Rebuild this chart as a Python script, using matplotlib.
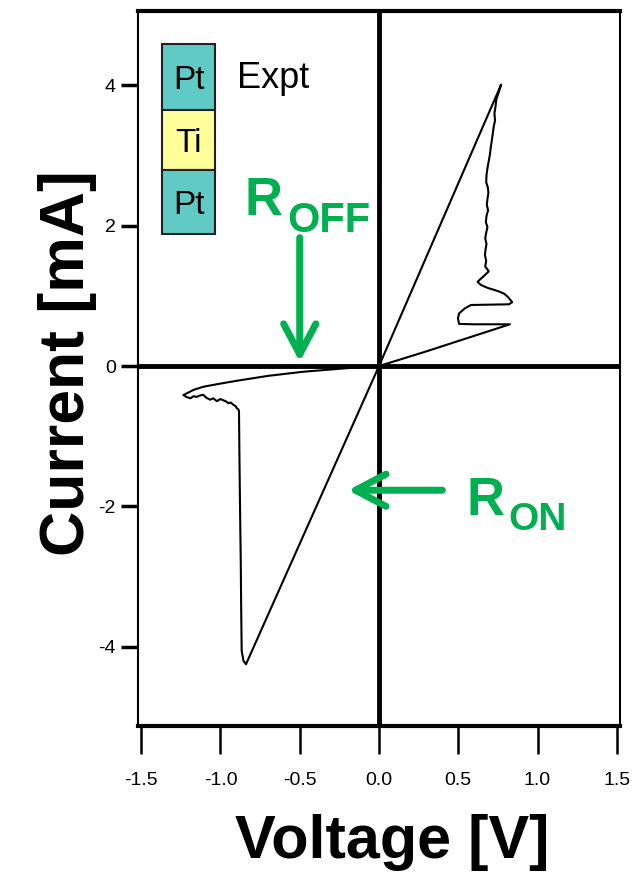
import numpy as np
import matplotlib
matplotlib.use("Agg")
import matplotlib.pyplot as plt
from matplotlib.patches import Rectangle, FancyArrowPatch

# I-V loop of the Pt/Ti/Pt cell (voltage in V, current in mA)
# positive sweep: ON branch up to the peak, then reset back down
v_pos = [0.0, 0.77, 0.755, 0.74, 0.735, 0.728, 0.732, 0.724, 0.718, 0.712,
         0.705, 0.70, 0.692, 0.684, 0.678, 0.676, 0.686, 0.690, 0.684, 0.680,
         0.688, 0.678, 0.674, 0.684, 0.676, 0.670, 0.678, 0.672, 0.668, 0.676,
         0.670, 0.692, 0.665, 0.640, 0.622, 0.640, 0.668, 0.690, 0.720, 0.760,
         0.790, 0.815, 0.840, 0.820, 0.70, 0.580, 0.540, 0.505, 0.498, 0.505,
         0.600, 0.826, 0.60, 0.30, 0.0]
i_pos = [0.0, 4.01, 3.90, 3.80, 3.70, 3.60, 3.50, 3.42, 3.32, 3.22,
         3.12, 3.02, 2.92, 2.82, 2.72, 2.62, 2.55, 2.47, 2.38, 2.30,
         2.22, 2.14, 2.05, 1.98, 1.90, 1.82, 1.74, 1.66, 1.58, 1.50,
         1.42, 1.35, 1.29, 1.24, 1.20, 1.16, 1.13, 1.11, 1.09, 1.06,
         1.03, 0.98, 0.91, 0.88, 0.875, 0.87, 0.82, 0.75, 0.68, 0.60,
         0.595, 0.595, 0.43, 0.21, 0.0]
# negative sweep: OFF branch, set jump, ON branch back to zero
v_neg = [0.0, -0.20, -0.477, -0.70, -0.897, -1.00, -1.108, -1.17, -1.234,
         -1.215, -1.19, -1.17, -1.15, -1.13, -1.108, -1.09, -1.066, -1.045,
         -1.023, -1.00, -0.98, -0.96, -0.95, -0.935, -0.92, -0.905, -0.897,
         -0.886, -0.883, -0.880, -0.876, -0.872, -0.869, -0.866, -0.855,
         -0.839, 0.0]
i_neg = [0.0, -0.03, -0.081, -0.14, -0.21, -0.25, -0.295, -0.34, -0.414,
         -0.44, -0.46, -0.43, -0.44, -0.42, -0.41, -0.45, -0.48, -0.46,
         -0.50, -0.47, -0.49, -0.51, -0.53, -0.52, -0.55, -0.57, -0.60,
         -0.62, -0.65, -1.34, -2.10, -2.77, -3.50, -4.06, -4.20,
         -4.25, 0.0]

x_ticks = [-1.5, -1.0, -0.5, 0.0, 0.5, 1.0, 1.5]
y_ticks = [-4, -2, 0, 2, 4]
stack_layers = ["Pt", "Ti", "Pt"]
stack_colors = ["#5fcbc4", "#ffff99", "#5fcbc4"]

green = "#00b050"
W, H = 641, 876
plt.rcParams["font.family"] = "Liberation Sans"
plt.rcParams["axes.unicode_minus"] = False


def fx(px):
    return px / W


def fy(py):
    return 1 - py / H


fig = plt.figure(figsize=(W / 100, H / 100), dpi=100)
ax = fig.add_axes([fx(138), fy(726), (620 - 138) / W, (726 - 11) / H])

ax.plot(v_pos, i_pos, color="black", lw=1.5, solid_joinstyle="round")
ax.plot(v_neg, i_neg, color="black", lw=1.5, solid_joinstyle="round")
ax.axhline(0, color="black", lw=3.5, zorder=1)
ax.axvline(0, color="black", lw=3.5, zorder=1)

ax.set_xlim(-1.52, 1.52)
ax.set_ylim(-5.13, 5.06)
ax.set_xticks(x_ticks)
ax.set_xticklabels(["%.1f" % t for t in x_ticks])
ax.set_yticks(y_ticks)
ax.set_yticklabels([str(t) for t in y_ticks])
ax.tick_params(axis="x", direction="out", length=20, width=1.8, pad=13,
               labelsize=14)
ax.tick_params(axis="y", direction="out", length=12, width=2.5, pad=4,
               labelsize=14)

ax.spines["top"].set_linewidth(3)
ax.spines["bottom"].set_linewidth(3)
ax.spines["left"].set_linewidth(1.5)
ax.spines["right"].set_linewidth(1.5)

# axis titles
fig.text(fx(392), fy(858), "Voltage [V]", fontsize=44, fontweight="bold",
         ha="center", va="baseline")
fig.text(fx(84), fy(363), "Current [mA]", fontsize=45, fontweight="bold",
         rotation=90, rotation_mode="anchor", ha="center", va="baseline")

# Pt / Ti / Pt stack
edges = [44, 110, 170, 234]
for k, (name, col) in enumerate(zip(stack_layers, stack_colors)):
    top, bot = edges[k], edges[k + 1]
    fig.patches.append(Rectangle((fx(162), fy(bot)), (215 - 162) / W,
                                 (bot - top) / H, transform=fig.transFigure,
                                 facecolor=col, edgecolor="#222222", lw=1.5))
    fig.text(fx(189), fy(bot - (bot - top) / 2 + 12), name, fontsize=24,
             ha="center", va="baseline")
fig.text(fx(237), fy(88), "Expt", fontsize=26, ha="left", va="baseline")

# resistance state annotations
fig.text(fx(245), fy(215), "R", fontsize=38, fontweight="bold",
         color=green, ha="left", va="baseline")
fig.text(fx(287), fy(232), "OFF", fontsize=30, fontweight="bold",
         color=green, ha="left", va="baseline")
fig.text(fx(466), fy(515), "R", fontsize=38, fontweight="bold",
         color=green, ha="left", va="baseline")
fig.text(fx(508), fy(530), "ON", fontsize=28, fontweight="bold",
         color=green, ha="left", va="baseline")

for tail, tip in [((-0.50, 1.83), (-0.50, 0.06)), ((0.40, -1.77), (-0.195, -1.77))]:
    arr = FancyArrowPatch(tail, tip, arrowstyle="->,head_length=1.1,head_width=0.58",
                          mutation_scale=20, color=green, lw=5,
                          capstyle="round", joinstyle="round",
                          shrinkA=0, shrinkB=0, zorder=5)
    ax.add_patch(arr)

fig.savefig("out.png", dpi=100)
